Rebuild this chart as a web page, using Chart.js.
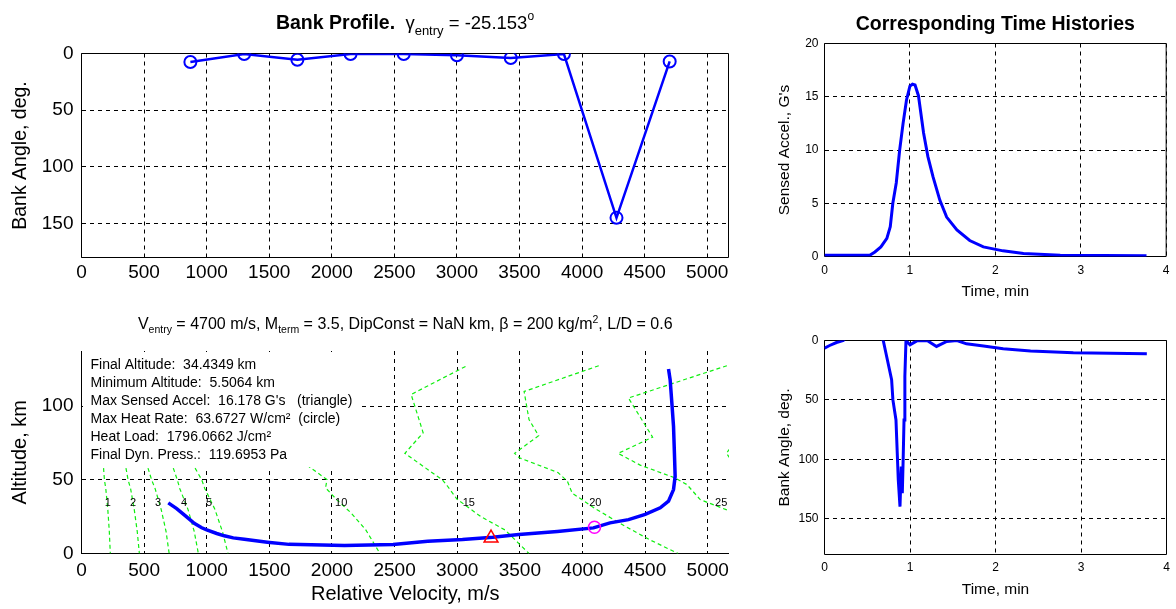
<!DOCTYPE html>
<html>
<head>
<meta charset="utf-8">
<script src="https://cdn.jsdelivr.net/npm/chart.js@4.4.1/dist/chart.umd.min.js"></script>
<style>
  html, body { margin: 0; padding: 0; background: #fff; }
  #wrap { position: relative; width: 1176px; height: 609px; overflow: hidden; background: #fff; }
  #wrap canvas { position: absolute; left: 0; top: 0; }
</style>
</head>
<body>
<div id="wrap">
  <canvas id="bankProfile" width="1176" height="609"></canvas>
  <canvas id="trajectory" width="1176" height="609"></canvas>
  <canvas id="accelHistory" width="1176" height="609"></canvas>
  <canvas id="bankHistory" width="1176" height="609"></canvas>
</div>
<script>
// bank profile (top left)
const profileVel = [870, 1300, 1725, 2150, 2575, 3000, 3430, 3855, 4275, 4700];
const profileBank = [7.5, 0.5, 5.5, 0.5, 0.5, 1.5, 4, 0.5, 145, 7];
const velTicks = [0, 500, 1000, 1500, 2000, 2500, 3000, 3500, 4000, 4500, 5000];
const bankTicks = [0, 50, 100, 150];

// altitude vs velocity (bottom left)
const trajVel = [4687, 4700, 4714, 4727, 4735, 4740, 4727, 4687, 4621, 4501, 4368, 4220, 4088, 3800,
                 3492, 3284, 3042, 2765, 2488, 2100, 1657, 1484, 1300, 1212, 1140, 1080, 1000, 960,
                 900, 830, 760, 693];
const trajAlt = [125.3, 118, 102, 86.4, 66, 52.4, 43.4, 35.5, 31, 26.5, 23, 20.8, 17.4, 15,
                 12.9, 11.1, 9.5, 8.3, 6.1, 5.5, 6.2, 7.7, 9.6, 10.6, 12, 13.6, 16, 17.5,
                 20.5, 25.5, 30.5, 34.4];
const altTicks = [0, 50, 100];
const maxAccelVel = [3270];
const maxAccelAlt = [10.5];
const maxHeatVel = [4096];
const maxHeatAlt = [17.8];

// mach contours
const lowMachAlt = [58, 50, 44, 30, 15, 0];
const mach1Vel = [176, 183, 194, 210, 222, 230];
const mach2Vel = [355, 372, 392, 421, 445, 462];
const mach3Vel = [531, 560, 588, 636, 675, 700];
const mach4Vel = [733, 765, 785, 850, 900, 933];
const mach5Vel = [907, 960, 985, 1065, 1125, 1170];
const mach10Vel = [1800, 1960, 1949, 2037, 2152, 2268, 2383];
const mach10Alt = [60, 50.2, 44.6, 36.6, 27.6, 16.3, 0];
const mach15Vel = [3066, 2632, 2728, 2582, 2690, 2882, 2920, 2997, 3189, 3381, 3573];
const mach15Alt = [127, 108, 82, 68, 61.5, 50, 46, 37, 25, 16, 0];
const mach20Vel = [4130, 3534, 3573, 3650, 3458, 3496, 3804, 3880, 3918, 4110, 4341, 4533, 4764];
const mach20Alt = [127.5, 110, 91, 80, 68, 65, 55, 49, 41, 30, 18.5, 9.5, 0];
const mach25Vel = [5153, 4367, 4560, 4285, 4461, 4740, 4834, 4940, 5180];
const mach25Alt = [127.5, 105.6, 79, 68, 60, 51.3, 46.8, 36.6, 28.7];
const mach30Vel = [5175, 5150, 5175];
const mach30Alt = [71, 68, 65];
const machLabels = ['1', '2', '3', '4', '5', '10', '15', '20', '25'];
const machLabelVel = [211, 411, 611, 818, 1018, 2073, 3093, 4103, 5108];
const machLabelAlt = 34;

const infoLines = [
  'Final Altitude:  34.4349 km',
  'Minimum Altitude:  5.5064 km',
  "Max Sensed Accel:  16.178 G's   (triangle)",
  'Max Heat Rate:  63.6727 W/cm\u00b2  (circle)',
  'Heat Load:  1796.0662 J/cm\u00b2',
  'Final Dyn. Press.:  119.6953 Pa'
];

// time histories (right)
const accelTime = [0, 0.53, 0.59, 0.66, 0.73, 0.77, 0.80, 0.84, 0.88, 0.92, 0.96, 1.0, 1.03, 1.06, 1.10,
                   1.16, 1.21, 1.27, 1.35, 1.43, 1.55, 1.70, 1.86, 2.09, 2.33, 2.76, 3.77];
const accelG = [0.12, 0.12, 0.43, 0.9, 1.7, 2.8, 5.0, 6.9, 10.0, 12.5, 14.7, 16.0, 16.18, 16.1, 15.1,
                11.6, 9.4, 7.5, 5.3, 3.7, 2.5, 1.5, 0.9, 0.53, 0.28, 0.12, 0.06];
const bankTime = [0, 0.06, 0.14, 0.22, 0.25, 0.65, 0.687, 0.727, 0.785, 0.80, 0.836, 0.851, 0.863, 0.883,
                  0.898, 0.91, 0.92, 0.93, 0.94, 0.953, 1.0, 1.08, 1.20, 1.31, 1.43, 1.55, 1.66, 1.86,
                  2.09, 2.41, 2.91, 3.77];
const bankAngle = [6.4, 4.2, 1.7, 0, -3, -3, 0, 13.5, 33, 50, 66.8, 94.8, 117.3, 139.8,
                   106, 128.5, 100, 66.8, 30.3, 0, 3.6, 0.3, 0, 5, 0.8, 0, 2.8, 4.7,
                   7, 8.9, 10.4, 11.2];
const timeTicks = [0, 1, 2, 3, 4];
const accelTicks = [0, 5, 10, 15, 20];

const FONT = "'Liberation Sans', Arial, Helvetica, sans-serif";
const BLUE = '#0000ff';
const GREEN = '#10ee10';
Chart.defaults.font.family = FONT;
Chart.defaults.color = '#000';

const xy = (xs, ys) => xs.map((x, i) => ({ x: x, y: ys[i] }));

function axis(cfg) {
  return {
    type: 'linear',
    position: cfg.position,
    min: cfg.min,
    max: cfg.max,
    reverse: !!cfg.reverse,
    afterBuildTicks: s => { s.ticks = cfg.ticks.map(v => ({ value: v })); },
    afterFit: s => { if (s.isHorizontal()) s.height = cfg.size; else s.width = cfg.size; },
    grid: { color: '#000', lineWidth: 1, drawTicks: false },
    border: { display: false, dash: [4, 4] },
    ticks: {
      color: '#000', font: { size: cfg.font }, padding: cfg.pad,
      autoSkip: false, maxRotation: 0, callback: v => String(v)
    },
    title: cfg.title
      ? { display: true, text: cfg.title, color: '#000', font: { size: cfg.titleFont }, padding: cfg.titlePad }
      : { display: false }
  };
}

// frame around the plot area, drawn over the grid
const axesFrame = {
  id: 'axesFrame',
  beforeDatasetsDraw(chart, args, opts) {
    const { ctx, chartArea: a } = chart;
    ctx.save();
    ctx.strokeStyle = '#000';
    ctx.lineWidth = 1;
    ctx.beginPath();
    if (opts.box) {
      ctx.rect(a.left, a.top, a.right - a.left, a.bottom - a.top);
    } else {
      ctx.moveTo(a.left, a.top);
      ctx.lineTo(a.left, a.bottom);
      ctx.lineTo(a.right, a.bottom);
    }
    ctx.stroke();
    ctx.restore();
  }
};

// text made of pieces with sub/superscripts
function drawRich(ctx, parts, cx, y) {
  let w = 0;
  parts.forEach(p => { ctx.font = p.font; p.w = ctx.measureText(p.text).width; w += p.w; });
  let x = cx - w / 2;
  ctx.textAlign = 'left';
  ctx.textBaseline = 'alphabetic';
  ctx.fillStyle = '#000';
  parts.forEach(p => { ctx.font = p.font; ctx.fillText(p.text, x, y + (p.dy || 0)); x += p.w; });
}

function titlePlugin(id, parts, y) {
  return {
    id: id,
    afterDraw(chart) {
      const { ctx, chartArea: a } = chart;
      ctx.save();
      drawRich(ctx, parts, (a.left + a.right) / 2, y);
      ctx.restore();
    }
  };
}

function baseOptions(pad, x, y, frame) {
  return {
    responsive: false,
    animation: false,
    devicePixelRatio: 1,
    events: [],
    layout: { padding: pad },
    scales: { x: x, y: y },
    plugins: { legend: { display: false }, tooltip: { enabled: false }, axesFrame: frame }
  };
}

// ---------- top left: bank profile ----------
new Chart(document.getElementById('bankProfile'), {
  type: 'scatter',
  data: {
    datasets: [{
      data: xy(profileVel, profileBank),
      showLine: true,
      borderColor: BLUE,
      borderWidth: 2.5,
      pointRadius: 6,
      pointBorderColor: BLUE,
      pointBorderWidth: 2,
      pointBackgroundColor: 'rgba(0,0,0,0)'
    }]
  },
  options: baseOptions(
    { left: 6.5, top: 53.5, right: 447.5, bottom: 311.5 },
    axis({ position: 'bottom', min: 0, max: 5170, ticks: velTicks, size: 40, font: 19, pad: 4 }),
    axis({ position: 'left', min: 0, max: 180, reverse: true, ticks: bankTicks, size: 75, font: 19, pad: 8,
           title: 'Bank Angle, deg.', titleFont: 19.5, titlePad: { top: 2, bottom: 0 } }),
    { box: true }
  ),
  plugins: [axesFrame, titlePlugin('tlTitle', [
    { text: 'Bank Profile.', font: 'bold 19.5px ' + FONT },
    { text: '  \u03b3', font: '18.5px ' + FONT },
    { text: 'entry', font: '13px ' + FONT, dy: 6 },
    { text: ' = -25.153', font: '18.5px ' + FONT },
    { text: 'o', font: '12px ' + FONT, dy: -9 }
  ], 29)]
});

// ---------- bottom left: altitude vs velocity ----------
const contour = (vel, alt) => ({
  data: xy(vel, alt), showLine: true, borderColor: GREEN, borderWidth: 1.2,
  borderDash: [4, 3], pointRadius: 0, clip: 0
});

const trajectoryExtras = {
  id: 'trajectoryExtras',
  afterDatasetsDraw(chart) {
    const { ctx, scales: { x, y } } = chart;
    ctx.save();
    // results box over the grid
    ctx.fillStyle = '#fff';
    ctx.fillRect(83, 352, 277, 115);
    ctx.fillStyle = '#000';
    ctx.font = '14px ' + FONT;
    ctx.textAlign = 'left';
    ctx.textBaseline = 'alphabetic';
    infoLines.forEach((t, i) => ctx.fillText(t, 90.5, 369 + i * 18));
    // mach labels
    ctx.font = '11px ' + FONT;
    ctx.textAlign = 'center';
    ctx.textBaseline = 'middle';
    machLabels.forEach((t, i) => {
      ctx.fillText(t, x.getPixelForValue(machLabelVel[i]), y.getPixelForValue(machLabelAlt));
    });
    ctx.restore();
  }
};

new Chart(document.getElementById('trajectory'), {
  type: 'scatter',
  data: {
    datasets: [
      { data: xy(maxAccelVel, maxAccelAlt), pointStyle: 'triangle', pointRadius: 8, borderColor: '#ff0000',
        pointBorderColor: '#ff0000', pointBorderWidth: 1.5, pointBackgroundColor: 'rgba(0,0,0,0)' },
      { data: xy(maxHeatVel, maxHeatAlt), pointStyle: 'circle', pointRadius: 6, borderColor: '#ff00ff',
        pointBorderColor: '#ff00ff', pointBorderWidth: 1.5, pointBackgroundColor: 'rgba(0,0,0,0)' },
      { data: xy(trajVel, trajAlt), showLine: true, borderColor: BLUE, borderWidth: 3.5, pointRadius: 0 },
      contour(mach1Vel, lowMachAlt),
      contour(mach2Vel, lowMachAlt),
      contour(mach3Vel, lowMachAlt),
      contour(mach4Vel, lowMachAlt),
      contour(mach5Vel, lowMachAlt),
      contour(mach10Vel, mach10Alt),
      contour(mach15Vel, mach15Alt),
      contour(mach20Vel, mach20Alt),
      contour(mach25Vel, mach25Alt),
      contour(mach30Vel, mach30Alt)
    ]
  },
  options: baseOptions(
    { left: 6.5, top: 351, right: 447, bottom: 0 },
    axis({ position: 'bottom', min: 0, max: 5170, ticks: velTicks, size: 55.5, font: 19, pad: 6,
           title: 'Relative Velocity, m/s', titleFont: 20, titlePad: { top: 0, bottom: 3 } }),
    axis({ position: 'left', min: 0, max: 137.5, ticks: altTicks, size: 75, font: 19, pad: 8,
           title: 'Altitude, km', titleFont: 20, titlePad: { top: 1.5, bottom: 0 } }),
    { box: false }
  ),
  plugins: [axesFrame, trajectoryExtras, titlePlugin('blTitle', [
    { text: 'V', font: '16px ' + FONT },
    { text: 'entry', font: '10.5px ' + FONT, dy: 4 },
    { text: ' = 4700 m/s, M', font: '16px ' + FONT },
    { text: 'term', font: '10.5px ' + FONT, dy: 4 },
    { text: ' = 3.5, DipConst = NaN km, \u03b2 = 200 kg/m', font: '16px ' + FONT },
    { text: '2', font: '10.5px ' + FONT, dy: -6 },
    { text: ', L/D = 0.6', font: '16px ' + FONT }
  ], 329)]
});

// ---------- top right: sensed acceleration ----------
new Chart(document.getElementById('accelHistory'), {
  type: 'scatter',
  data: {
    datasets: [{ data: xy(accelTime, accelG), showLine: true, borderColor: BLUE, borderWidth: 3, pointRadius: 0 }]
  },
  options: baseOptions(
    { left: 769.5, top: 43.5, right: 9.5, bottom: 307.5 },
    axis({ position: 'bottom', min: 0, max: 4, ticks: timeTicks, size: 45, font: 12, pad: 6.5,
           title: 'Time, min', titleFont: 15.5, titlePad: { top: 0, bottom: 0.6 } }),
    axis({ position: 'left', min: 0, max: 20, ticks: accelTicks, size: 55, font: 12, pad: 6,
           title: "Sensed Accel., G's", titleFont: 15.5, titlePad: { top: 6.2, bottom: 0 } }),
    { box: true }
  ),
  plugins: [axesFrame, titlePlugin('trTitle', [
    { text: 'Corresponding Time Histories', font: 'bold 19.5px ' + FONT }
  ], 30)]
});

// ---------- bottom right: bank angle history ----------
new Chart(document.getElementById('bankHistory'), {
  type: 'scatter',
  data: {
    datasets: [{ data: xy(bankTime, bankAngle), showLine: true, borderColor: BLUE, borderWidth: 3,
                 pointRadius: 0, clip: 0 }]
  },
  options: baseOptions(
    { left: 769.5, top: 340.5, right: 9.5, bottom: 9.5 },
    axis({ position: 'bottom', min: 0, max: 4, ticks: timeTicks, size: 45, font: 12, pad: 6,
           title: 'Time, min', titleFont: 15.5, titlePad: { top: 0, bottom: 0.3 } }),
    axis({ position: 'left', min: 0, max: 180, reverse: true, ticks: bankTicks, size: 55, font: 12, pad: 6,
           title: 'Bank Angle, deg.', titleFont: 15.5, titlePad: { top: 6.2, bottom: 0 } }),
    { box: true }
  ),
  plugins: [axesFrame]
});
</script>
</body>
</html>
